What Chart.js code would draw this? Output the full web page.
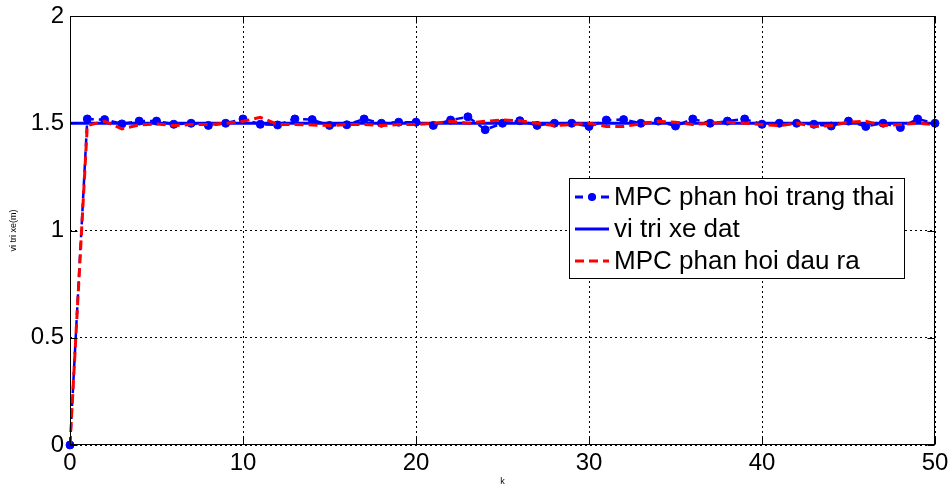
<!DOCTYPE html>
<html>
<head>
<meta charset="utf-8">
<script src="https://cdn.jsdelivr.net/npm/chart.js@4"></script>
<style>
html,body{margin:0;padding:0;background:#fff;}
#wrap{width:951px;height:487px;position:relative;}
</style>
</head>
<body>
<div id="wrap"><canvas id="c" width="951" height="487"></canvas></div>
<script>
const kValues = [0,1,2,3,4,5,6,7,8,9,10,11,12,13,14,15,16,17,18,19,20,21,22,23,24,25,26,27,28,29,30,31,32,33,34,35,36,37,38,39,40,41,42,43,44,45,46,47,48,49,50];
const mpcState = [0,1.52,1.517,1.497,1.51,1.51,1.495,1.50,1.49,1.50,1.52,1.495,1.492,1.52,1.517,1.49,1.493,1.52,1.50,1.505,1.505,1.49,1.515,1.53,1.47,1.50,1.512,1.49,1.50,1.50,1.485,1.515,1.517,1.50,1.51,1.487,1.52,1.50,1.51,1.52,1.495,1.50,1.50,1.495,1.487,1.51,1.485,1.50,1.48,1.52,1.50];
const setpoint = [1.5,1.5,1.5,1.5,1.5,1.5,1.5,1.5,1.5,1.5,1.5,1.5,1.5,1.5,1.5,1.5,1.5,1.5,1.5,1.5,1.5,1.5,1.5,1.5,1.5,1.5,1.5,1.5,1.5,1.5,1.5,1.5,1.5,1.5,1.5,1.5,1.5,1.5,1.5,1.5,1.5,1.5,1.5,1.5,1.5,1.5,1.5,1.5,1.5,1.5,1.5];
const mpcOutput = [0,1.49,1.509,1.474,1.492,1.497,1.489,1.494,1.494,1.5,1.509,1.528,1.494,1.494,1.492,1.489,1.494,1.494,1.489,1.494,1.494,1.5,1.509,1.5,1.509,1.515,1.512,1.5,1.489,1.494,1.5,1.485,1.485,1.497,1.509,1.505,1.494,1.5,1.505,1.5,1.494,1.489,1.5,1.485,1.489,1.505,1.509,1.489,1.494,1.5,1.494];
const xTicks = [0,10,20,30,40,50];
const yTicks = [0,0.5,1,1.5,2];
const seriesLabels = ['MPC phan hoi trang thai','vi tri xe dat','MPC phan hoi dau ra'];
const xTitle = 'k';
const yTitle = 'vi tri xe(m)';

const FONT = '"Liberation Sans", Arial, sans-serif';
const toXY = arr => arr.map((v,i)=>({x:kValues[i], y:v}));

const frame = {
  id:'frame',
  afterDraw(chart){
    const {ctx, chartArea:a, scales:{x,y}} = chart;
    ctx.save();
    ctx.strokeStyle='#000'; ctx.lineWidth=1; ctx.setLineDash([]);
    const l=Math.round(a.left)+0.5, t=Math.round(a.top)+0.5, r=Math.round(a.right)-0.5, b=Math.round(a.bottom)-0.5;
    ctx.strokeRect(l,t,r-l,b-t);
    const L=7;
    ctx.beginPath();
    xTicks.forEach(tv=>{const px=Math.round(x.getPixelForValue(tv))+0.5;
      ctx.moveTo(px,b); ctx.lineTo(px,b-L);
      ctx.moveTo(px,t); ctx.lineTo(px,t+L);});
    yTicks.forEach(tv=>{const py=Math.round(y.getPixelForValue(tv))+0.5;
      ctx.moveTo(l,py); ctx.lineTo(l+L,py);
      ctx.moveTo(r,py); ctx.lineTo(r-L,py);});
    ctx.stroke();
    // legend
    const bx=569, by=178, bw=335, bh=100;
    ctx.fillStyle='#fff'; ctx.fillRect(bx,by,bw,bh);
    ctx.strokeRect(bx+0.5,by+0.5,bw,bh);
    const rows=[197,229,261];
    const ds=chart.data.datasets;
    ctx.font='26px '+FONT; ctx.textBaseline='middle'; ctx.textAlign='left';
    [0,1,2].forEach((di,i)=>{
      const d=ds[di]; const yy=rows[i];
      ctx.strokeStyle=d.borderColor; ctx.lineWidth=3;
      ctx.setLineDash(d.borderDash||[]);
      ctx.beginPath(); ctx.moveTo(575,yy); ctx.lineTo(609,yy); ctx.stroke();
      ctx.setLineDash([]);
      if(d.pointRadius>0){ctx.fillStyle=d.borderColor; ctx.beginPath(); ctx.arc(592,yy,4,0,Math.PI*2); ctx.fill();}
      ctx.fillStyle='#000'; ctx.fillText(d.label,614,yy+1);
    });
    ctx.restore();
  }
};

new Chart(document.getElementById('c'),{
  type:'line',
  data:{datasets:[
    {label:seriesLabels[0], data:toXY(mpcState), borderColor:'#0000ff', backgroundColor:'#0000ff', borderWidth:2.5, borderDash:[8,5], pointRadius:4, pointBackgroundColor:'#0000ff', pointBorderColor:'#0000ff', pointBorderWidth:1, order:2, clip:false},
    {label:seriesLabels[1], data:toXY(setpoint), borderColor:'#0000ff', borderWidth:3, pointRadius:0, order:3},
    {label:seriesLabels[2], data:toXY(mpcOutput), borderColor:'#ff0000', borderWidth:3, borderDash:[9,5], pointRadius:0, order:1}
  ]},
  options:{
    responsive:false, animation:false, devicePixelRatio:1,
    layout:{padding:{top:16,right:16,left:0,bottom:0}},
    plugins:{legend:{display:false}, tooltip:{enabled:false}},
    elements:{line:{tension:0}},
    scales:{
      x:{type:'linear', min:0, max:50,
        afterBuildTicks(s){s.ticks=xTicks.map(v=>({value:v}));},
        afterFit(s){s.height=42; s.paddingRight=0; s.paddingLeft=0;},
        grid:{color:'#000', lineWidth:1, drawTicks:false},
        border:{display:false, dash:[2,3]},
        ticks:{color:'#000', font:{size:24, family:FONT}, padding:4, maxRotation:0, callback:v=>String(v)},
        title:{display:true, text:xTitle, color:'#000', font:{size:9, family:FONT}, padding:{top:0,bottom:0}}
      },
      y:{type:'linear', min:0, max:2,
        afterBuildTicks(s){s.ticks=yTicks.map(v=>({value:v}));},
        afterFit(s){s.width=70; s.paddingTop=0; s.paddingBottom=0;},
        grid:{color:'#000', lineWidth:1, drawTicks:false},
        border:{display:false, dash:[2,3]},
        ticks:{color:'#000', font:{size:24, family:FONT}, padding:6, callback:v=>String(v)},
        title:{display:true, text:yTitle, color:'#000', font:{size:9, family:FONT}, padding:{top:8,bottom:0}}
      }
    }
  },
  plugins:[frame]
});
</script>
</body>
</html>
